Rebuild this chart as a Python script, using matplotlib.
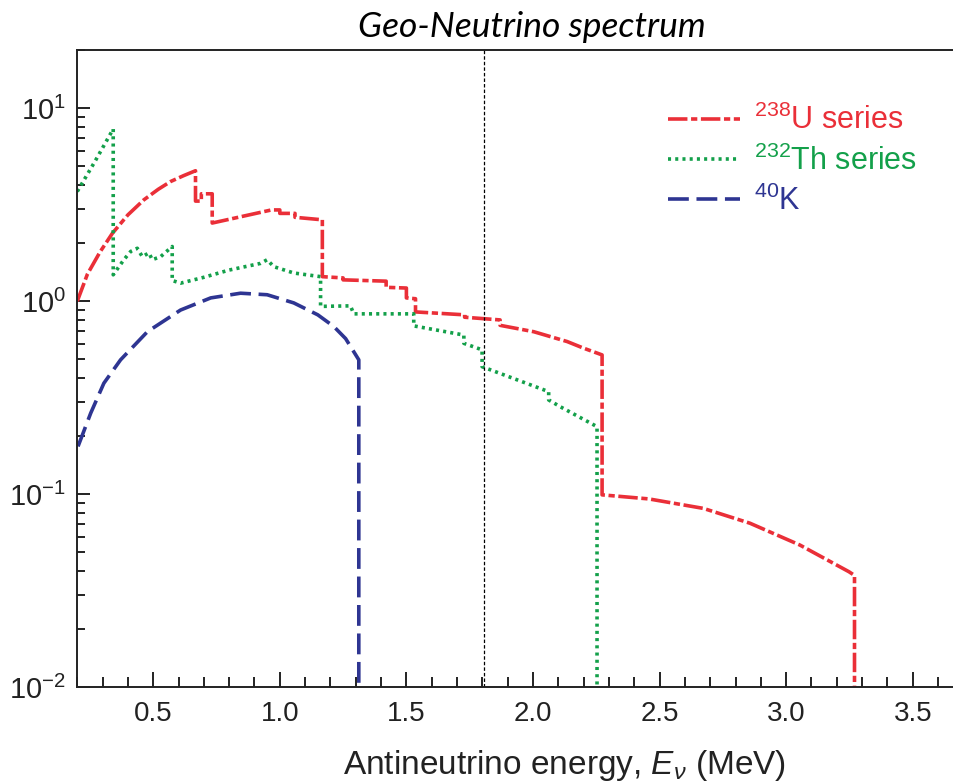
import matplotlib
matplotlib.use('Agg')
import matplotlib.pyplot as plt
from matplotlib.ticker import LogLocator, MultipleLocator, NullFormatter

plt.rcParams['font.family'] = ['Liberation Sans', 'DejaVu Sans']
plt.rcParams['mathtext.fontset'] = 'custom'
plt.rcParams['mathtext.rm'] = 'Liberation Sans'
plt.rcParams['mathtext.it'] = 'Liberation Sans:italic'
plt.rcParams['lines.scale_dashes'] = False

# 238U series (energy in MeV, flux in arbitrary units)
u_energy = [0.20, 0.24, 0.29, 0.339, 0.40, 0.463, 0.52, 0.569, 0.62, 0.667, 0.667, 0.69,
            0.69, 0.733, 0.733, 0.819, 0.967, 1.00, 1.00, 1.06, 1.06, 1.168, 1.168, 1.25,
            1.25, 1.42, 1.42, 1.50, 1.50, 1.536, 1.536, 1.73, 1.73, 1.87, 1.87, 2.003,
            2.135, 2.20, 2.273, 2.273, 2.458, 2.673, 2.857, 3.054, 3.248, 3.27, 3.27]
u_flux = [1.0, 1.38, 1.80, 2.25, 2.80, 3.35, 3.80, 4.17, 4.47, 4.74, 3.30, 3.30,
          3.60, 3.60, 2.54, 2.69, 2.97, 2.97, 2.85, 2.85, 2.72, 2.64, 1.34, 1.32,
          1.29, 1.27, 1.18, 1.17, 1.04, 1.03, 0.88, 0.85, 0.826, 0.80, 0.75, 0.695,
          0.618, 0.571, 0.527, 0.0993, 0.0946, 0.0845, 0.0708, 0.0546, 0.0397, 0.038, 0.005]

# 232Th series
th_energy = [0.20, 0.27, 0.342, 0.342, 0.384, 0.411, 0.437, 0.457, 0.483, 0.496, 0.529,
             0.575, 0.575, 0.608, 0.70, 0.80, 0.924, 0.950, 0.976, 1.055, 1.161, 1.161,
             1.279, 1.292, 1.529, 1.529, 1.727, 1.727, 1.799, 1.799, 2.062, 2.062, 2.108,
             2.253, 2.253]
th_flux = [3.7, 5.3, 7.8, 1.37, 1.64, 1.81, 1.88, 1.70, 1.78, 1.64, 1.70,
           1.92, 1.28, 1.24, 1.33, 1.45, 1.57, 1.64, 1.51, 1.40, 1.34, 0.94,
           0.946, 0.86, 0.86, 0.745, 0.668, 0.605, 0.56, 0.458, 0.34, 0.308, 0.284,
           0.224, 0.005]

# 40K
k_energy = [0.203, 0.253, 0.305, 0.371, 0.477, 0.608, 0.727, 0.845, 0.950, 1.055,
            1.15, 1.213, 1.26, 1.312, 1.312]
k_flux = [0.177, 0.263, 0.376, 0.497, 0.695, 0.90, 1.04, 1.10, 1.08, 0.98,
          0.85, 0.74, 0.64, 0.497, 0.005]

threshold = 1.806

red = '#ea2f38'
green = '#13a04a'
blue = '#2e3592'

fig = plt.figure(figsize=(9.54, 7.84), dpi=100)
ax = fig.add_axes([0.081, 0.1233, 0.919, 0.8129])

ax.plot(u_energy, u_flux, color=red, lw=2.6, dashes=(14, 2.6, 4.5, 2.6),
        label='$^{238}$U series')
ax.plot(th_energy, th_flux, color=green, lw=2.6, dashes=(2.2, 3.0),
        label='$^{232}$Th series')
ax.plot(k_energy, k_flux, color=blue, lw=2.6, dashes=(15, 5.5),
        label='$^{40}$K')
ax.axvline(threshold, color='black', lw=0.9, dashes=(2.5, 1.5))

ax.set_yscale('log')
ax.set_xlim(0.2, 3.663)
ax.set_ylim(0.01, 20)

ax.xaxis.set_major_locator(MultipleLocator(0.5))
ax.xaxis.set_minor_locator(MultipleLocator(0.1))
ax.yaxis.set_major_locator(LogLocator(base=10))
ax.yaxis.set_minor_locator(LogLocator(base=10, subs=range(2, 10)))
ax.yaxis.set_minor_formatter(NullFormatter())

ax.tick_params(which='both', direction='in', width=1.4, colors='#222222',
               labelsize=20, top=False, right=False)
ax.tick_params(axis='x', which='major', length=11, pad=10)
ax.tick_params(axis='x', which='minor', length=7)
ax.tick_params(axis='y', which='major', length=9.5, pad=8, labelsize=21)
ax.tick_params(axis='y', which='minor', length=6)

for side in ['left', 'bottom', 'top']:
    ax.spines[side].set_linewidth(1.4)
    ax.spines[side].set_color('#222222')
ax.spines['right'].set_visible(False)

leg = ax.legend(loc='upper left', bbox_to_anchor=(0.66, 0.933), frameon=False,
                fontsize=22, handlelength=2.35, handletextpad=0.45, labelspacing=0.3,
                borderaxespad=0)
for text, line in zip(leg.get_texts(), leg.get_lines()):
    text.set_color(line.get_color())

fig.text(0.557, 0.966, 'Geo-Neutrino spectrum', ha='center', va='center',
         fontsize=25.5, style='italic', family=['Lato', 'DejaVu Sans'])
fig.text(0.592, 0.024, r'Antineutrino energy, $E_\nu$ (MeV)', ha='center',
         va='center', fontsize=24, color='#222222')

fig.savefig('out.png', dpi=100)
